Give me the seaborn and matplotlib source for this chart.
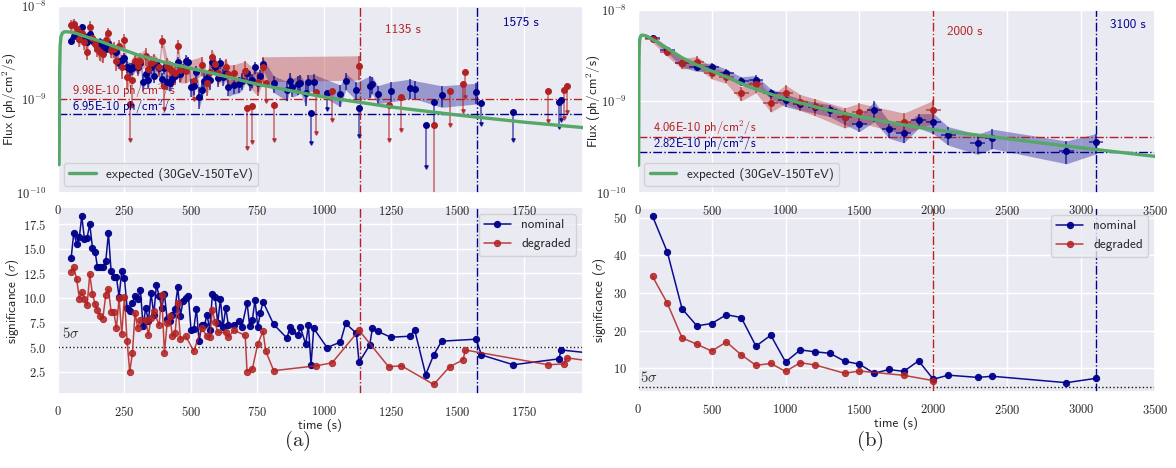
import numpy as np
import matplotlib
matplotlib.use("Agg")
import matplotlib.pyplot as plt
import seaborn as sns
from matplotlib.ticker import FuncFormatter, MultipleLocator, NullFormatter

# ---------------- data ----------------
# expected light curve (30GeV-150TeV)
exp_t = [6, 7, 8, 10, 13, 18, 25, 35, 50, 70, 100, 150, 200, 300, 400, 500, 600,
         750, 900, 1000, 1250, 1500, 1750, 2000, 2500, 3000, 3500]
exp_f = [2.0e-10, 6e-10, 2.0e-9, 3.8e-9, 4.7e-9, 5.1e-9, 5.3e-9, 5.3e-9, 5.25e-9,
         5.1e-9, 4.75e-9, 4.3e-9, 3.8e-9, 3.0e-9, 2.5e-9, 2.15e-9, 1.85e-9,
         1.45e-9, 1.2e-9, 1.06e-9, 8.3e-10, 6.8e-10, 5.7e-10, 4.9e-10, 3.9e-10,
         3.1e-10, 2.5e-10]

# panel (a) nominal
a_nom_t = [51, 61, 72, 82, 91, 101, 111, 121, 131, 141,
           150, 160, 170, 181, 191, 201, 211, 221, 231, 241,
           251, 261, 271, 281, 291, 301, 311, 321, 331, 341,
           351, 361, 371, 381, 391, 401, 411, 421, 431, 441,
           451, 461, 471, 481, 491, 501, 511, 521, 531, 541,
           551, 561, 571, 581, 591, 601, 611, 621, 631, 641,
           661, 681, 691, 711, 721, 731, 741, 751, 761, 771,
           811, 861, 871, 881, 901, 911, 931, 941, 951, 961,
           1011, 1061, 1081, 1121, 1131, 1171, 1181, 1201, 1250, 1321,
           1340, 1381, 1411, 1441, 1570, 1590, 1710, 1880, 1890, 1995]
a_nom_sig = [14.0, 16.6, 15.5, 16.2, 18.3, 16.0, 16.1, 17.5, 15.1, 14.7,
             13.1, 13.1, 13.1, 13.7, 16.6, 12.7, 12.1, 12.1, 10.1, 12.7,
             12.0, 9.0, 8.7, 9.5, 10.2, 9.9, 10.8, 7.1, 9.0, 7.6,
             10.5, 8.3, 11.3, 10.2, 9.0, 10.4, 7.9, 7.6, 8.3, 8.9,
             11.1, 8.2, 9.7, 10.0, 10.2, 6.7, 6.8, 8.9, 5.6, 7.2,
             7.2, 8.3, 6.7, 10.4, 10.1, 7.4, 9.9, 7.0, 9.0, 7.2,
             7.2, 7.6, 7.0, 9.5, 7.1, 7.8, 9.8, 7.0, 8.5, 9.6,
             7.3, 5.9, 7.0, 6.6, 6.2, 7.0, 5.3, 7.2, 3.2, 6.9,
             4.95, 5.5, 7.4, 6.4, 3.45, 5.2, 6.9, 6.6, 6.0, 6.1,
             6.7, 2.2, 4.2, 5.6, 5.8, 4.2, 3.2, 3.8, 4.7, 4.4]
a_nom_flux = [4.25, 4.8, 5.2, 4.4, 6.0, 4.8, 4.1, 5.0, 4.3, 4.0,
              3.8, 4.1, 3.7, 3.5, 4.0, 3.4, 3.45, 3.2, 2.45, 2.65,
              2.8, 2.25, 2.1, 2.15, 2.35, 2.2, 2.45, 1.55, 1.85, 1.6,
              2.2, 1.8, 2.45, 2.15, 1.65, 2.15, 1.55, 1.5, 1.65, 1.8,
              2.5, 1.85, 2.1, 2.6, 2.5, 1.35, 1.4, 1.95, 1.07, 1.26,
              1.58, 1.7, 1.6, 2.5, 2.25, 1.68, 2.45, 1.75, 1.9, 1.35,
              1.42, 1.45, 1.58, 1.9, 1.53, 1.6, 2.2, 1.5, 1.78, 2.4,
              1.48, 1.26, 1.58, 1.36, 1.45, 1.5, 1.16, 1.53, 0.71, 1.53,
              1.18, 1.13, 1.58, 1.25, 0.80, 1.40, 1.45, 1.15, 1.24, 1.33,
              1.30, 0.53, 0.94, 1.11, 1.19, 0.91, 0.74, 0.94, 0.98, 0.90]
a_nom_err = [0.09, 0.08, 0.09, 0.09, 0.08, 0.09, 0.09, 0.08, 0.10, 0.10,
             0.11, 0.11, 0.11, 0.10, 0.09, 0.12, 0.12, 0.12, 0.14, 0.12,
             0.13, 0.15, 0.16, 0.15, 0.14, 0.15, 0.13, 0.20, 0.16, 0.19,
             0.14, 0.17, 0.13, 0.14, 0.16, 0.14, 0.18, 0.19, 0.17, 0.16,
             0.13, 0.17, 0.15, 0.14, 0.14, 0.21, 0.21, 0.16, 0.26, 0.20,
             0.20, 0.17, 0.21, 0.14, 0.14, 0.19, 0.14, 0.20, 0.16, 0.20,
             0.20, 0.19, 0.21, 0.15, 0.20, 0.18, 0.15, 0.21, 0.17, 0.15,
             0.20, 0.24, 0.21, 0.22, 0.23, 0.21, 0.27, 0.20, 0.00, 0.21,
             0.00, 0.26, 0.20, 0.22, 0.00, 0.27, 0.21, 0.22, 0.24, 0.24,
             0.22, 0.00, 0.00, 0.26, 0.25, 0.00, 0.00, 0.00, 0.00, 0.00]
a_nom_ul_tip = [0.34, 0.78, 0.41, 0.19, 0.53, 0.54, 0.37, 0.51, 0.60, 0.50]

# panel (a) degraded
a_deg_t = [51, 61, 72, 82, 91, 101, 111, 121, 131, 141,
           150, 160, 170, 181, 191, 201, 211, 221, 231, 241,
           251, 261, 271, 281, 291, 301, 311, 331, 341, 351,
           361, 381, 391, 401, 411, 421, 431, 441, 451, 461,
           481, 511, 541, 561, 571, 581, 591, 601, 631, 641,
           661, 704, 711, 731, 751, 771, 781, 811, 971, 1030,
           1131, 1242, 1290, 1411, 1471, 1521, 1530, 1841, 1900, 1910, 1995]
a_deg_sig = [12.6, 13.1, 11.9, 9.9, 10.6, 9.9, 9.25, 12.4, 10.4, 9.4,
             8.8, 8.2, 7.9, 10.3, 10.9, 8.6, 8.6, 6.9, 10.0, 6.3,
             10.1, 5.6, 2.5, 4.4, 8.5, 6.9, 7.8, 7.7, 6.2, 8.0,
             8.7, 7.2, 10.3, 4.4, 7.4, 8.2, 6.1, 6.4, 9.5, 5.8,
             6.1, 4.6, 6.9, 6.1, 6.0, 8.8, 7.5, 6.5, 6.5, 6.0,
             6.7, 6.2, 2.5, 2.8, 5.3, 6.6, 4.6, 2.6, 3.1, 3.4,
             6.7, 3.0, 3.1, 1.2, 3.0, 3.7, 4.7, 3.2, 3.3, 3.9, 3.6]
a_deg_flux = [6.2, 6.5, 5.7, 4.4, 5.1, 4.1, 3.2, 6.0, 4.6, 3.9,
              3.5, 3.2, 3.1, 4.3, 5.1, 3.4, 3.45, 2.6, 3.7, 2.2,
              4.3, 1.75, 0.89, 1.6, 2.6, 2.3, 2.6, 2.9, 2.1, 2.45,
              2.6, 2.2, 4.25, 1.4, 2.3, 2.14, 2.0, 1.9, 3.7, 2.06,
              2.03, 1.58, 2.33, 1.48, 1.95, 2.86, 2.4, 1.9, 2.2, 1.86,
              1.9, 2.03, 0.80, 0.85, 1.53, 2.2, 1.48, 0.88, 1.2, 1.24,
              2.27, 0.88, 1.05, 0.53, 1.23, 1.46, 1.98, 1.23, 1.26, 1.39, 1.3]
a_deg_err = [0.14, 0.13, 0.15, 0.17, 0.16, 0.17, 0.18, 0.14, 0.16, 0.18,
             0.19, 0.20, 0.20, 0.16, 0.15, 0.19, 0.19, 0.23, 0.17, 0.25,
             0.17, 0.28, 0.00, 0.00, 0.19, 0.23, 0.21, 0.21, 0.25, 0.20,
             0.19, 0.22, 0.16, 0.00, 0.22, 0.20, 0.26, 0.25, 0.17, 0.27,
             0.26, 0.00, 0.23, 0.26, 0.26, 0.18, 0.21, 0.24, 0.24, 0.26,
             0.24, 0.26, 0.00, 0.00, 0.29, 0.30, 0.00, 0.00, 0.00, 0.00,
             0.29, 0.00, 0.00, 0.00, 0.00, 0.00, 0.00, 0.00, 0.00, 0.00, 0.00]
a_deg_ul_tip = [0.37, 0.85, 0.78, 1.0, 0.305, 0.35, 0.96, 0.365, 0.44, 0.60,
                0.37, 0.47, 0.08, 0.53, 0.76, 1.05, 0.59, 0.63, 0.74, 0.6]

# panel (b) nominal
b_nom_t = [100, 200, 300, 400, 500, 600, 700, 800, 900, 1000, 1100, 1200, 1300,
           1400, 1500, 1600, 1700, 1800, 1900, 2000, 2100, 2300, 2400, 2900, 3100]
b_nom_sig = [50.4, 40.9, 25.8, 21.3, 21.9, 24.25, 23.5, 15.9, 18.8, 11.7, 14.9, 14.4,
             14.0, 11.9, 11.1, 8.7, 9.7, 9.2, 12.0, 7.1, 8.2, 7.6, 7.9, 6.2, 7.35]
b_nom_flux = [5.0, 3.68, 2.6, 2.36, 2.38, 2.04, 1.67, 1.7, 1.22, 1.04, 0.93, 0.86,
              0.80, 0.67, 0.57, 0.80, 0.50, 0.45, 0.62, 0.59, 0.43, 0.35, 0.40,
              0.288, 0.355]
b_nom_err = [0.06, 0.07, 0.09, 0.10, 0.10, 0.10, 0.11, 0.13, 0.12, 0.16, 0.14, 0.14,
             0.15, 0.17, 0.18, 0.25, 0.21, 0.22, 0.18, 0.25, 0.23, 0.25, 0.24, 0.28,
             0.25]

# panel (b) degraded
b_deg_t = [100, 200, 300, 400, 500, 600, 700, 800, 900, 1000, 1100, 1200, 1400,
           1500, 1800, 2000]
b_deg_sig = [34.4, 27.3, 18.1, 16.4, 14.6, 17.0, 13.6, 10.8, 11.3, 9.2, 11.5, 10.9,
             8.7, 9.3, 8.15, 6.74]
b_deg_flux = [4.8, 3.45, 2.6, 2.72, 2.07, 1.83, 1.22, 1.55, 0.95, 1.23, 0.99, 0.88,
              0.68, 0.77, 0.59, 0.80]
b_deg_err = [0.08, 0.10, 0.13, 0.14, 0.15, 0.14, 0.17, 0.20, 0.20, 0.23, 0.20, 0.21,
             0.25, 0.24, 0.26, 0.28]

# thresholds
a_min_flux = [9.98e-10, 6.95e-10]      # degraded, nominal
b_min_flux = [4.06e-10, 2.82e-10]
a_last = [1135, 1575]                  # degraded, nominal
b_last = [2000, 3100]
a_min_lbl = ["9.98E-10 ph/cm$^2$/s", "6.95E-10 ph/cm$^2$/s"]
b_min_lbl = ["4.06E-10 ph/cm$^2$/s", "2.82E-10 ph/cm$^2$/s"]

# ---------------- style ----------------
sns.set_theme(style="darkgrid")
plt.rcParams['font.family'] = ['cmss10', 'DejaVu Sans']
plt.rcParams['mathtext.fontset'] = 'cm'
plt.rcParams['axes.unicode_minus'] = False

BLUE = '#00008B'
RED = '#B22222'
GREEN = '#55A868'
TICK_FS = 9
LBL_FS = 9.5

fig = plt.figure(figsize=(11.76, 4.68), dpi=100)
# bottom panels first so that the tick labels of the top panels stay visible
axA2 = fig.add_axes([0.0489, 0.1581, 0.4466, 0.3989])
axB2 = fig.add_axes([0.5423, 0.1630, 0.4399, 0.3919])
axA1 = fig.add_axes([0.0489, 0.5882, 0.4466, 0.3989])
axB1 = fig.add_axes([0.5423, 0.5882, 0.4399, 0.3904])


def flux_series(ax, t, sig, flux, err, tips, color, xerr=None):
    t = np.asarray(t, float)
    sig = np.asarray(sig, float)
    f = np.asarray(flux, float) * 1e-9
    e = np.asarray(err, float) * f
    det = sig >= 5
    ul = ~det
    ax.fill_between(t[det], f[det] - e[det], f[det] + e[det], color=color,
                    alpha=0.35, lw=0, zorder=1)
    cont = ax.errorbar(t[det], f[det], yerr=e[det],
                       xerr=None if xerr is None else xerr,
                       fmt='o', ms=4, color=color, ecolor=color,
                       elinewidth=1.2, capsize=0, zorder=3)
    for b in cont[2]:
        b.set_alpha(0.7)
    if ul.any():
        tip = np.asarray(tips, float) * 1e-9
        ax.vlines(t[ul], tip, f[ul], color=color, lw=1.2, alpha=0.6, zorder=2)
        ax.plot(t[ul], tip, 'v', ms=2.5, color=color, alpha=0.8, zorder=2)
        ax.plot(t[ul], f[ul], 'o', ms=4, color=color, zorder=3)


def sig_series(ax, t, sig, color, label, alpha):
    sns.lineplot(x=t, y=sig, ax=ax, color=color, marker='o', markersize=4.5,
                 markeredgecolor=color, lw=1.1, alpha=alpha, label=label)


log_fmt = FuncFormatter(lambda v, p: r'$10^{%d}$' % int(round(np.log10(v))))
int_fmt = FuncFormatter(lambda v, p: r'$%d$' % int(round(v)))
dec_fmt = FuncFormatter(lambda v, p: r'$%.1f$' % v)


def style_flux(ax, xmax, xstep, mins, lbls, lbl_x, lbl_fac, lasts, last_txt, ylab_x):
    ax.set_yscale('log')
    ax.set_ylim(1e-10, 1e-8)
    ax.set_xlim(0, xmax)
    ax.xaxis.set_major_locator(MultipleLocator(xstep))
    ax.xaxis.set_major_formatter(int_fmt)
    ax.yaxis.set_major_formatter(log_fmt)
    ax.yaxis.set_minor_formatter(NullFormatter())
    ax.tick_params(labelsize=TICK_FS, pad=2)
    ax.set_ylabel("Flux (ph/cm$^2$/s)", fontsize=LBL_FS)
    ax.yaxis.set_label_coords(ylab_x, 0.5)
    for v, c, lb, fac in zip(mins, [RED, BLUE], lbls, lbl_fac):
        ax.axhline(v, color=c, ls='-.', lw=1.0, zorder=2)
        ax.text(lbl_x, v * fac, lb, color=c, fontsize=9, va='baseline')
    for v, c in zip(lasts, [RED, BLUE]):
        ax.axvline(v, color=c, ls='-.', lw=1.0, zorder=2)
    for (x, y, s), c in zip(last_txt, [RED, BLUE]):
        ax.text(x, y, s, color=c, fontsize=LBL_FS, va='center')
    ax.legend(loc='lower left', fontsize=LBL_FS)


def style_sig(ax, xmax, xstep, ylim, ystep, yfmt, lasts, ylab_x):
    ax.set_xlim(0, xmax)
    ax.set_ylim(*ylim)
    ax.xaxis.set_major_locator(MultipleLocator(xstep))
    ax.yaxis.set_major_locator(MultipleLocator(ystep))
    ax.xaxis.set_major_formatter(int_fmt)
    ax.yaxis.set_major_formatter(yfmt)
    ax.tick_params(labelsize=TICK_FS, pad=2)
    ax.axhline(5, color='k', ls=':', lw=1.0, zorder=1)
    ax.text(15, 5.6, r'$5\sigma$', fontsize=10.5, color='0.2', va='bottom')
    for v, c in zip(lasts, [RED, BLUE]):
        ax.axvline(v, color=c, ls='-.', lw=1.0, zorder=1)
    ax.set_xlabel("time (s)", fontsize=LBL_FS, labelpad=0)
    ax.set_ylabel(r"significance ($\sigma$)", fontsize=LBL_FS)
    ax.yaxis.set_label_coords(ylab_x, 0.5)
    ax.legend(loc='upper right', fontsize=LBL_FS)


# ---------------- panel (a) ----------------
sns.lineplot(x=exp_t, y=exp_f, ax=axA1, color=GREEN, lw=2.4,
             label="expected (30GeV-150TeV)", zorder=4)
flux_series(axA1, a_nom_t, a_nom_sig, a_nom_flux, a_nom_err, a_nom_ul_tip, BLUE)
flux_series(axA1, a_deg_t, a_deg_sig, a_deg_flux, a_deg_err, a_deg_ul_tip, RED)
style_flux(axA1, 1970, 250, a_min_flux, a_min_lbl, 54, [1.12, 1.07], a_last,
           [(1228, 5.5e-9, "1135 s"), (1670, 6.6e-9, "1575 s")], -0.073)

sig_series(axA2, a_nom_t, a_nom_sig, BLUE, "nominal", 0.95)
sig_series(axA2, a_deg_t, a_deg_sig, RED, "degraded", 0.85)
style_sig(axA2, 1970, 250, (0.23, 19.2), 2.5, dec_fmt, a_last, -0.07)

# ---------------- panel (b) ----------------
sns.lineplot(x=exp_t, y=exp_f, ax=axB1, color=GREEN, lw=2.4,
             label="expected (30GeV-150TeV)", zorder=4)
flux_series(axB1, b_nom_t, b_nom_sig, b_nom_flux, b_nom_err, [], BLUE, xerr=50)
flux_series(axB1, b_deg_t, b_deg_sig, b_deg_flux, b_deg_err, [], RED, xerr=50)
style_flux(axB1, 3500, 500, b_min_flux, b_min_lbl, 101, [1.14, 1.09], b_last,
           [(2095, 5.74e-9, "2000 s"), (3197, 6.85e-9, "3100 s")], -0.068)

sig_series(axB2, b_nom_t, b_nom_sig, BLUE, "nominal", 0.95)
sig_series(axB2, b_deg_t, b_deg_sig, RED, "degraded", 0.85)
style_sig(axB2, 3500, 500, (3.8, 52.5), 10, int_fmt, b_last, -0.058)

fig.text(0.2526, 0.058, r'$\mathrm{(a)}$', fontsize=15, ha='center', va='center')
fig.text(0.7398, 0.058, r'$\mathrm{(b)}$', fontsize=15, ha='center', va='center')

fig.savefig("out.png", dpi=100)
